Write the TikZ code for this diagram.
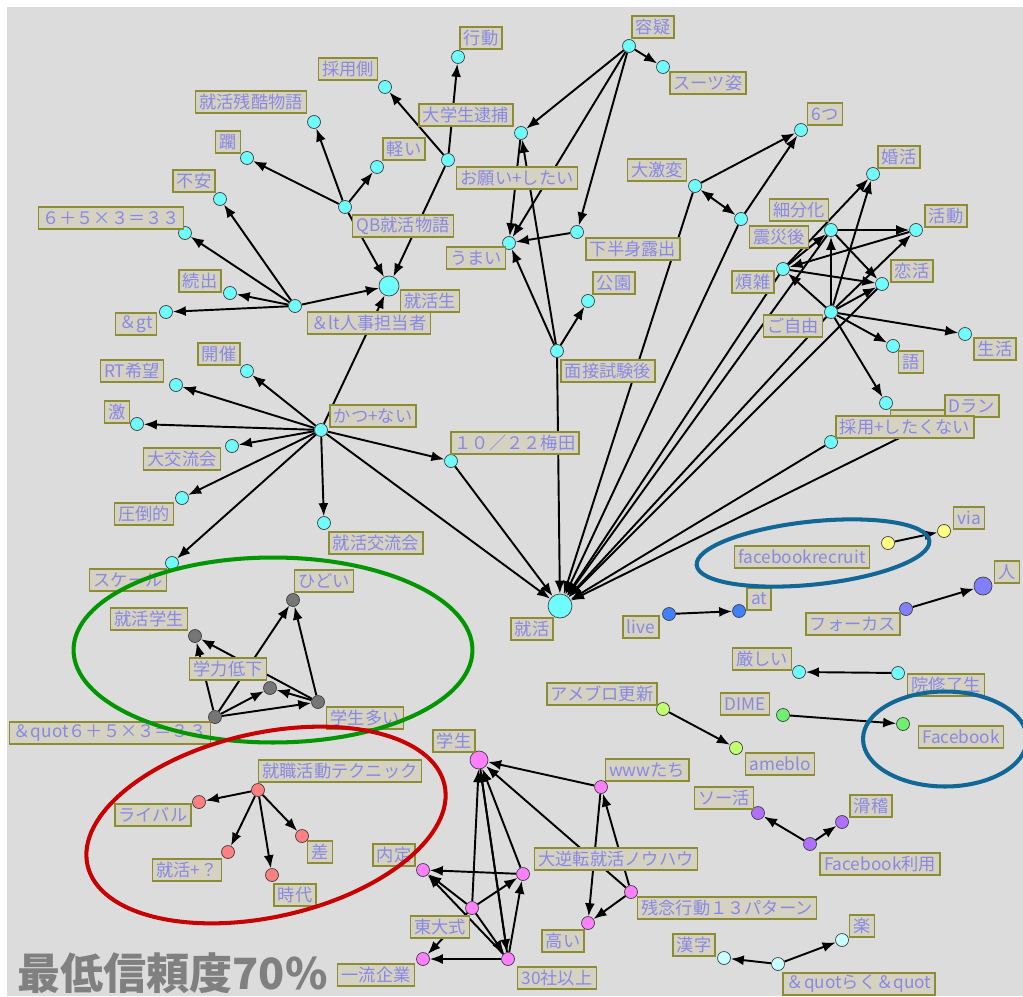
\documentclass[tikz,border=0pt]{standalone}
\usepackage{fontspec}
\setmainfont{Noto Sans CJK JP}
\usetikzlibrary{arrows.meta,backgrounds}
\definecolor{bggray}{RGB}{220,220,220}
\definecolor{lblfill}{RGB}{213,210,194}
\definecolor{lblline}{RGB}{140,140,50}
\definecolor{lbltext}{RGB}{136,136,230}
\definecolor{titlegray}{RGB}{128,128,128}
\definecolor{nodecyan}{RGB}{110,252,252}
\definecolor{nodegrey}{RGB}{118,118,118}
\definecolor{nodesalmon}{RGB}{255,128,128}
\definecolor{nodepink}{RGB}{255,128,255}
\definecolor{nodeyellow}{RGB}{255,255,128}
\definecolor{nodeblue}{RGB}{64,128,255}
\definecolor{nodepurple}{RGB}{128,128,255}
\definecolor{nodelime}{RGB}{192,255,112}
\definecolor{nodegreen}{RGB}{112,240,112}
\definecolor{nodeviolet}{RGB}{176,112,255}
\definecolor{nodepale}{RGB}{200,255,255}
\definecolor{ringgreen}{RGB}{0,150,0}
\definecolor{ringred}{RGB}{200,0,0}
\definecolor{ringblue}{RGB}{17,104,150}
\tikzset{
dot/.style={circle,draw=black!75,line width=0.4pt,fill=#1,inner sep=0pt,minimum size=0.26cm},
hub/.style={dot=#1,minimum size=0.44cm},
lbl/.style={draw=lblline,fill=lblfill,text=lbltext,line width=0.8pt,inner xsep=2.2pt,inner ysep=0pt,minimum height=0.44cm,font=\fontsize{9.8}{10}\selectfont},
arrow/.style={-{Latex[length=2.6mm,width=2mm]},line width=1.1pt},
biarrow/.style={{Latex[length=2.6mm,width=2mm]}-{Latex[length=2.6mm,width=2mm]},line width=1.1pt},
ring/.style={draw=#1,line width=2.3pt}
}
\begin{document}
\begin{tikzpicture}[x=0.02cm,y=-0.02cm]
\useasboundingbox (0,0) rectangle (1023,996);
% box hidden under the two labels on the right
\node[lbl,minimum width=1.38cm](hiddnl) at (925,421){};
% cyan nodes
\foreach \nm/\x/\y/\lx/\ly/\txt in {
kodo/458/57/481/38/行動, saiyogawa/385/87/348/69/採用側,
zankoku/314/122/251/102/就活残酷物語, karui/377/167/404/149/軽い,
taiho/521/133/466/115/大学生逮捕, onegai/448/160/517/178/お願い+したい,
rin/247/158/228/142/躙, fuan/220/199/194/181/不安,
shiki/185/233/111/218/６＋５×３＝３３, qb/345/207/403/226/QB就活物語,
zokushutsu/230/293/200/281/続出, jinji/295/306/369/323/＆lt人事担当者,
gt/166/312/136/324/＆gt, umai/509/243/476/258/うまい,
yogi/629/46/653/27/容疑, suit/663/67/708/83/スーツ姿,
mittsu/801/130/825/114/6つ, gekihen/695/186/657/170/大激変,
shinsai/741/219/779/237/震災後, saibunka/831/230/799/210/細分化,
konkatsu/873/174/899/157/婚活, katsudo/916/230/946/216/活動,
kahanshin/577/232/633/249/下半身露出, hanzatsu/783/269/753/282/煩雑,
renkatsu/882/284/912/271/恋活, koen/588/301/614/283/公園,
gojiyu/831/312/793/326/ご自由, seikatsu/965/334/995/349/生活,
mensetsu/557/351/608/371/面接試験後, go/893/346/911/362/語,
saiyoshitakunai/831/442/905/427/採用+したくない, katsunai/321/430/373/416/かつ+ない,
kaisai/247/371/219/354/開催, rt/176/385/132/371/RT希望,
geki/137/424/117/412/激, daikoryu/232/446/182/459/大交流会,
attoteki/182/498/144/514/圧倒的, koryukai/324/523/376/543/就活交流会,
scale/172/563/128/580/スケール, umeda/451/461/515/443/１０／２２梅田,
kibishii/799/672/762/659/厳しい, inshuryo/898/673/946/685/院修了生}
{
\node[dot=nodecyan](\nm) at (\x,\y){};
\node[lbl](\nm-l) at (\lx,\ly){\txt};
}
\node[dot=nodecyan](hiddn) at (886,403){};
\node[lbl](dran-l) at (972,406){Dラン};
\coordinate (dranc) at (966,405);
\node[lbl](saiyoshitakunai-l2) at (905,427){採用+したくない};
% hubs
\node[hub=nodecyan,minimum size=0.4cm](shukatsusei) at (389,286){};
\node[lbl](shukatsusei-l) at (430,301){就活生};
\node[hub=nodecyan,minimum size=0.48cm](shukatsu) at (560,606){};
\node[lbl](shukatsu-l) at (532,629){就活};
\node[hub=nodepink,minimum size=0.36cm](gakusei) at (479,760){};
\node[lbl](gakusei-l) at (454,741){学生};
\node[hub=nodepurple,minimum size=0.36cm](hito) at (983,586){};
\node[lbl](hito-l) at (1007,572){人};
% grey group
\foreach \nm/\x/\y/\lx/\ly/\txt in {
hidoi/293/600/324/581/ひどい, shgakusei/195/636/149/619/就活学生,
teika/270/688/228/669/学力低下, ooi/318/702/365/718/学生多い,
quot/215/717/110/733/＆quot６＋５×３＝３３}
{
\node[dot=nodegrey](\nm) at (\x,\y){};
\node[lbl](\nm-l) at (\lx,\ly){\txt};
}
% red group
\foreach \nm/\x/\y/\lx/\ly/\txt in {
technic/258/790/340/771/就職活動テクニック, rival/199/802/153/815/ライバル,
sa/302/836/320/852/差, shq/228/852/187/870/就活+？, jidai/272/875/295/895/時代}
{
\node[dot=nodesalmon](\nm) at (\x,\y){};
\node[lbl](\nm-l) at (\lx,\ly){\txt};
}
% pink group
\foreach \nm/\x/\y/\lx/\ly/\txt in {
naitei/423/870/394/855/内定, todai/472/908/440/927/東大式,
ichiryu/423/959/376/975/一流企業, sansha/508/959/557/978/30社以上,
gyakuten/523/874/616/859/大逆転就活ノウハウ, www/601/787/647/770/wwwたち,
zannen/631/892/727/908/残念行動１３パターン, takai/588/923/563/941/高い}
{
\node[dot=nodepink](\nm) at (\x,\y){};
\node[lbl](\nm-l) at (\lx,\ly){\txt};
}
% small pairs
\foreach \nm/\x/\y/\lx/\ly/\c/\txt in {
fbr/888/543/802/557/nodeyellow/facebookrecruit, via/944/531/969/518/nodeyellow/via,
live/669/614/641/627/nodeblue/live, atw/739/611/759/599/nodeblue/at,
focus/906/609/853/624/nodepurple/フォーカス,
ameburo/663/709/602/694/nodelime/アメブロ更新, ameblo/736/748/780/764/nodelime/ameblo,
dime/783/715/745/704/nodegreen/DIME, facebook/903/724/961/737/nodegreen/Facebook,
sokatsu/758/813/724/798/nodeviolet/ソー活, kokkei/842/822/871/806/nodeviolet/滑稽,
fbriyo/810/844/880/864/nodeviolet/Facebook利用,
kanji/724/958/694/945/nodepale/漢字, raku/842/940/862/926/nodepale/楽,
quotraku/778/964/859/984/nodepale/＆quotらく＆quot}
{
\node[dot=\c](\nm) at (\x,\y){};
\node[lbl](\nm-l) at (\lx,\ly){\txt};
}
\node[font=\fontsize{24.5}{26}\selectfont\bfseries,text=titlegray,anchor=west,inner sep=0pt](conf) at (17,973){最低信頼度70\%};
\begin{scope}[on background layer]
\fill[bggray] (7,7) rectangle (1023,996);
\foreach \a/\b in {onegai/kodo,onegai/saiyogawa,onegai/shukatsusei,
qb/rin,qb/zankoku,qb/karui,qb/shukatsusei,
jinji/gt,jinji/zokushutsu,jinji/shiki,jinji/fuan,jinji/shukatsusei,
katsunai/shukatsusei,katsunai/kaisai,katsunai/rt,katsunai/geki,katsunai/daikoryu,
katsunai/attoteki,katsunai/scale,katsunai/koryukai,katsunai/umeda,katsunai/shukatsu,
umeda/shukatsu,yogi/suit,yogi/taiho,yogi/kahanshin,yogi/umai,
kahanshin/umai,taiho/umai,mensetsu/umai,mensetsu/koen,mensetsu/taiho,mensetsu/shukatsu,
gekihen/mittsu,shinsai/mittsu,
gekihen/shukatsu,shinsai/shukatsu,hanzatsu/shukatsu,saibunka/shukatsu,gojiyu/shukatsu,
renkatsu/shukatsu,saiyoshitakunai/shukatsu,dranc/shukatsu,
saibunka/katsudo,gojiyu/katsudo,katsudo/hanzatsu,hanzatsu/saibunka,hanzatsu/konkatsu,
gojiyu/konkatsu,gojiyu/saibunka,saibunka/renkatsu,hanzatsu/renkatsu,gojiyu/renkatsu,
gojiyu/hanzatsu,gojiyu/go,gojiyu/seikatsu,gojiyu/hiddn,
quot/shgakusei,quot/hidoi,quot/teika,quot/ooi,ooi/hidoi,ooi/teika,ooi/shgakusei,
technic/rival,technic/shq,technic/jidai,technic/sa,
www/gakusei,todai/gakusei,sansha/gakusei,gakusei/sansha,gyakuten/gakusei,zannen/gakusei,
gyakuten/naitei,todai/naitei,sansha/naitei,todai/ichiryu,sansha/ichiryu,
todai/gyakuten,sansha/gyakuten,todai/sansha,www/takai,zannen/www,zannen/takai,
fbr/via,live/atw,focus/hito,inshuryo/kibishii,ameburo/ameblo,dime/facebook,
fbriyo/sokatsu,fbriyo/kokkei,quotraku/kanji,quotraku/raku}
\draw[arrow](\a)--(\b);
\draw[biarrow](gekihen)--(shinsai);
\end{scope}
% rings
\draw[ring=ringgreen](273,650) ellipse [x radius=3.99cm,y radius=1.85cm];
\draw[ring=ringred](266,825) ellipse [x radius=3.66cm,y radius=1.84cm,rotate=12.7];
\draw[ring=ringblue](813,553) ellipse [x radius=2.34cm,y radius=0.63cm,rotate=6];
\draw[ring=ringblue](945,739) ellipse [x radius=1.64cm,y radius=0.95cm];
\end{tikzpicture}
\end{document}
